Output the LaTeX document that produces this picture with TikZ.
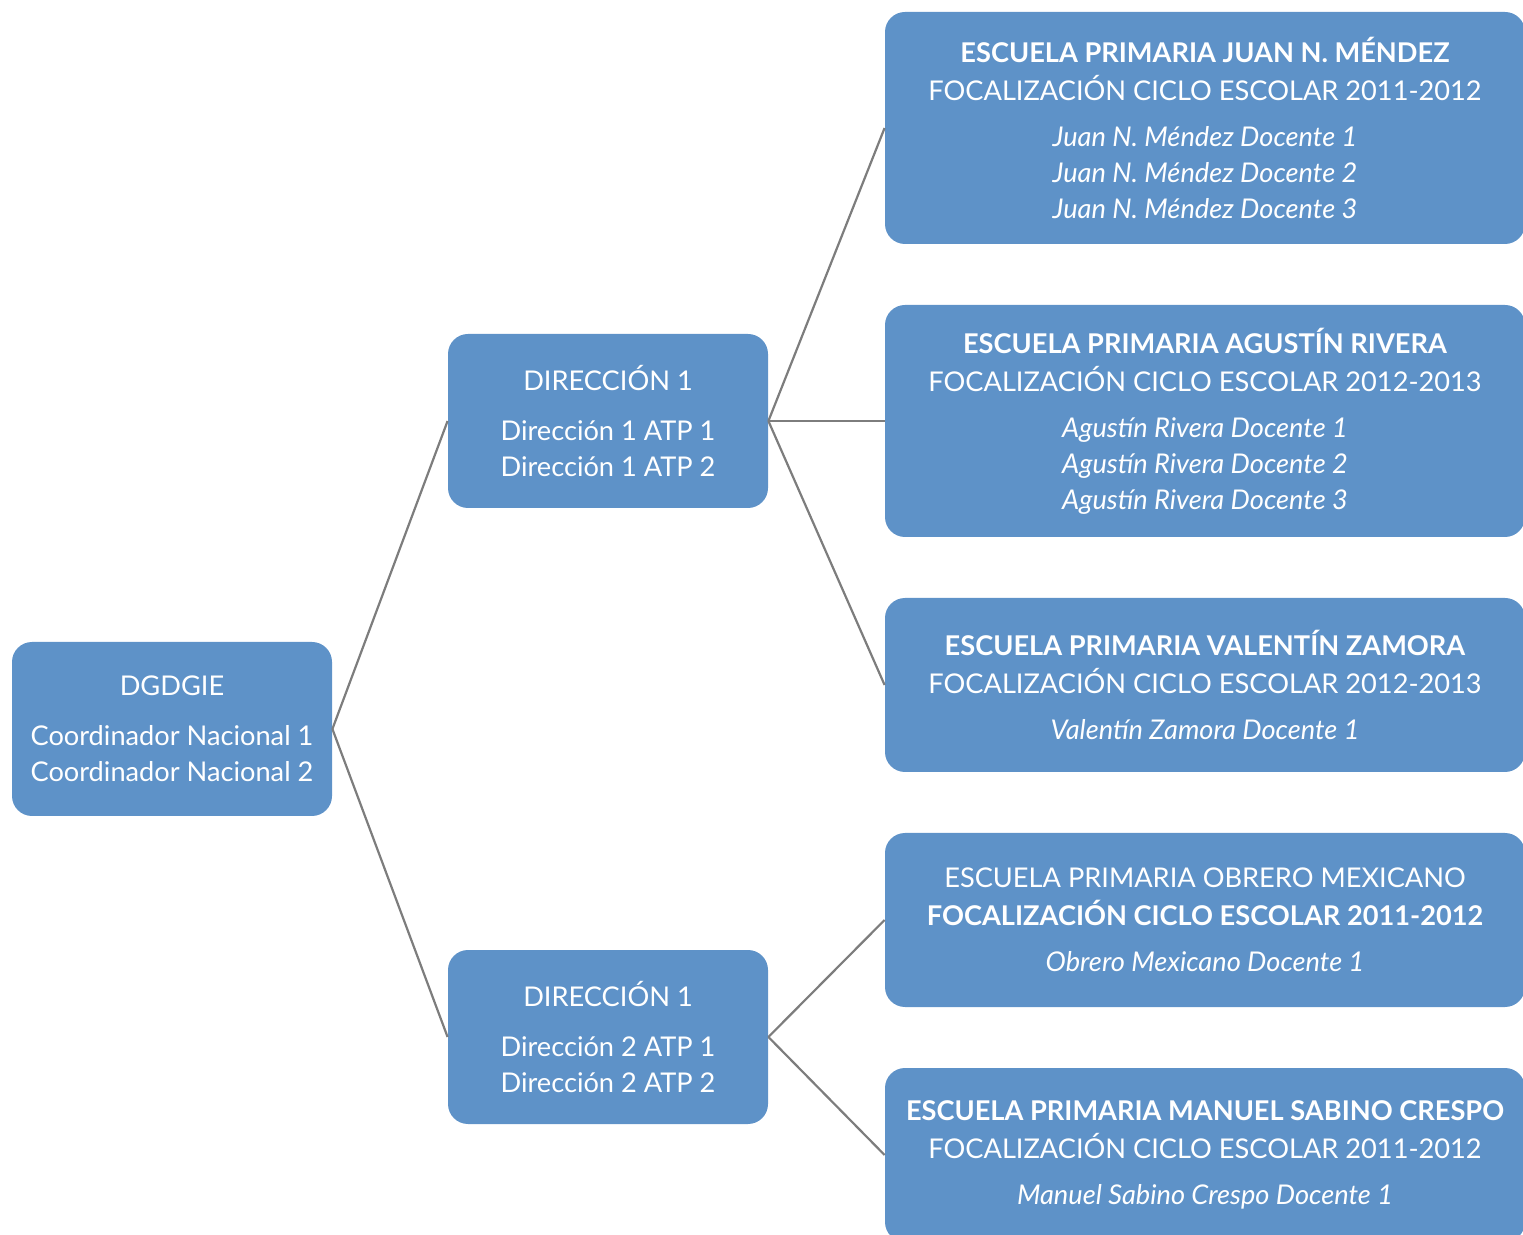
\documentclass[tikz,border=0pt]{standalone}
\usepackage{fontspec}
\setmainfont{Lato}
\usetikzlibrary{positioning}
\definecolor{boxblue}{RGB}{94, 146, 200}
\definecolor{linegray}{RGB}{125, 125, 125}

\begin{document}
\begin{tikzpicture}[x=0.5pt, y=-0.5pt,
        box/.style={fill=boxblue, draw=none, rounded corners=10pt, text=white, align=center,
            minimum width=160pt, minimum height=87pt, inner sep=0pt, font=\fontsize{13.6}{18}\selectfont},
        esc/.style={box, minimum width=320pt},
        link/.style={draw=linegray, line width=1.1pt}
      ]
        \useasboundingbox (0,0) rectangle (1523,1235);
        \node[box] (dg) at (172,729) {DGDGIE\\[7pt]Coordinador Nacional 1\\Coordinador Nacional 2};
        \node[box] (dir1) at (608,421) {DIRECCIÓN 1\\[7pt]Dirección 1 ATP 1\\Dirección 1 ATP 2};
        \node[box] (dir2) at (608,1037) {DIRECCIÓN 1\\[7pt]Dirección 2 ATP 1\\Dirección 2 ATP 2};
        \node[esc, minimum height=116pt] (esc1) at (1205,128)
            {\textbf{ESCUELA PRIMARIA JUAN N. MÉNDEZ}\\[1pt]FOCALIZACIÓN CICLO ESCOLAR 2011-2012\\[5pt]
             \textit{Juan N. Méndez Docente 1}\\\textit{Juan N. Méndez Docente 2}\\\textit{Juan N. Méndez Docente 3}};
        \node[esc, minimum height=116pt] (esc2) at (1205,421)
            {\textbf{ESCUELA PRIMARIA AGUSTÍN RIVERA}\\[1pt]FOCALIZACIÓN CICLO ESCOLAR 2012-2013\\[5pt]
             \textit{Agustín Rivera Docente 1}\\\textit{Agustín Rivera Docente 2}\\\textit{Agustín Rivera Docente 3}};
        \node[esc] (esc3) at (1205,685)
            {\textbf{ESCUELA PRIMARIA VALENTÍN ZAMORA}\\[1pt]FOCALIZACIÓN CICLO ESCOLAR 2012-2013\\[5pt]
             \textit{Valentín Zamora Docente 1}};
        \node[esc] (esc4) at (1205,920)
            {ESCUELA PRIMARIA OBRERO MEXICANO\\[1pt]\textbf{FOCALIZACIÓN CICLO ESCOLAR 2011-2012}\\[5pt]
             \textit{Obrero Mexicano Docente 1}};
        \node[esc] (esc5) at (1205,1155)
            {\textbf{ESCUELA PRIMARIA MANUEL SABINO CRESPO}\\[1pt]FOCALIZACIÓN CICLO ESCOLAR 2011-2012\\[5pt]
             \textit{Manuel Sabino Crespo Docente 1}};
        % conectores
        \draw[link] (dg.east) -- (dir1.west);
        \draw[link] (dg.east) -- (dir2.west);
        \draw[link] (dir1.east) -- (esc1.west);
        \draw[link] (dir1.east) -- (esc2.west);
        \draw[link] (dir1.east) -- (esc3.west);
        \draw[link] (dir2.east) -- (esc4.west);
        \draw[link] (dir2.east) -- (esc5.west);
      \end{tikzpicture}
\end{document}
